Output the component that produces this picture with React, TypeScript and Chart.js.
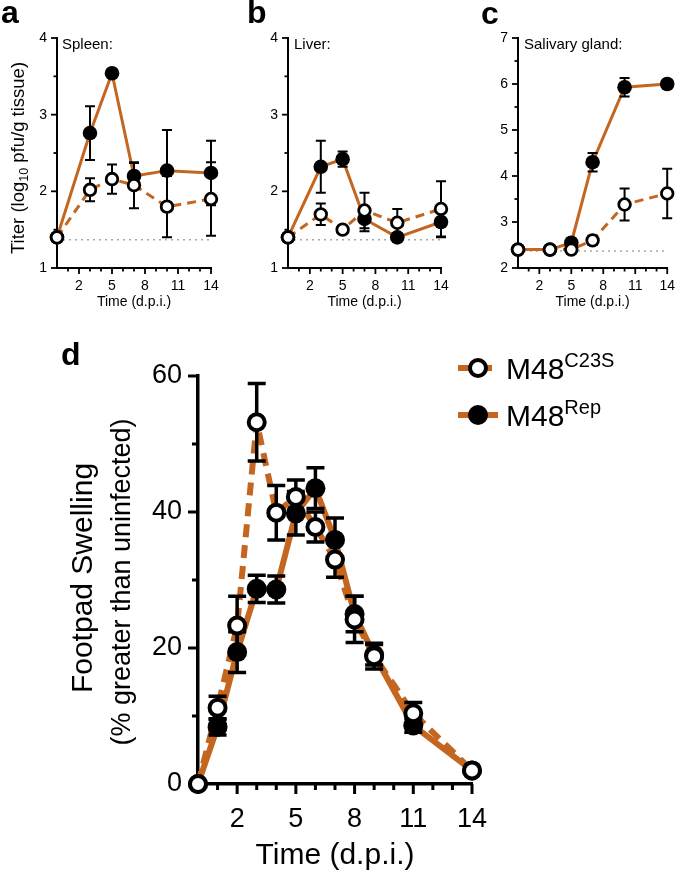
import React, { useEffect, useRef } from 'react';
import { Chart, registerables } from 'chart.js';

Chart.register(...registerables);

const ORANGE = '#c4661f';
const FONT = '"Liberation Sans", Arial, Helvetica, sans-serif';

// ---------- data ----------
const ORGAN_DAYS = [0, 3, 5, 7, 10, 14];

const SPLEEN_REP = [1.4, 2.76, 3.54, 2.2, 2.27, 2.24];
const SPLEEN_REP_ERR = [0, 0.35, 0, 0.17, 0.53, 0.42];
const SPLEEN_C23S = [1.4, 2.02, 2.16, 2.08, 1.8, 1.9];
const SPLEEN_C23S_ERR = [0, 0.15, 0.19, 0.3, 0.4, 0.48];
const SPLEEN_LIMIT = 1.37;

const LIVER_REP = [1.4, 2.32, 2.42, 1.64, 1.4, 1.6];
const LIVER_REP_ERR = [0, 0.34, 0.1, 0.16, 0, 0.2];
const LIVER_C23S = [1.4, 1.7, 1.5, 1.75, 1.59, 1.77];
const LIVER_C23S_ERR = [0, 0.14, 0, 0.23, 0.18, 0.36];
const LIVER_LIMIT = 1.37;

const SALIVARY_REP = [2.4, 2.4, 2.55, 4.3, 5.93, 6.0];
const SALIVARY_REP_ERR = [0, 0, 0, 0.2, 0.2, 0];
const SALIVARY_C23S = [2.4, 2.4, 2.4, 2.6, 3.38, 3.62];
const SALIVARY_C23S_ERR = [0, 0, 0, 0.1, 0.35, 0.54];
const SALIVARY_LIMIT = 2.37;

const FOOT_DAYS = [0, 1, 2, 3, 4, 5, 6, 7, 8, 9, 11, 14];
const FOOT_C23S = [0, 11.2, 23.3, 53.2, 39.9, 42.2, 37.8, 33.0, 24.2, 18.8, 10.4, 2.0];
const FOOT_C23S_ERR = [0, 1.7, 4.3, 5.7, 4.0, 2.5, 2.2, 2.6, 3.4, 1.9, 1.6, 0];
const FOOT_REP = [0, 8.4, 19.4, 28.7, 28.6, 39.8, 43.5, 35.9, 25.0, 19.0, 8.6, 2.0];
const FOOT_REP_ERR = [0, 1.2, 3.0, 2.0, 2.0, 3.2, 3.0, 3.2, 2.6, 1.5, 1.0, 0];

const X_TICK_LABELS = [2, 5, 8, 11, 14];
const X_MAX = 14;
const SPLEEN_Y_LABELS = [1, 2, 3, 4];
const LIVER_Y_LABELS = [1, 2, 3, 4];
const SALIVARY_Y_LABELS = [2, 3, 4, 5, 6, 7];
const FOOT_Y_LABELS = [0, 20, 40, 60];

// ---------- types ----------
type Series = { values: number[]; errors: number[]; filled: boolean };
type RichPart = { text: string; size: number; dy?: number; bold?: boolean };
type TextItem = { parts: RichPart[]; x: number; y: number; rotate?: boolean; align?: 'left' | 'center' };
type LegendSpec = {
  x0: number; x1: number; cx: number; textX: number;
  rows: { series: number; y: number; main: string; sup: string }[];
  size: number; supSize: number; supDy: number;
};
type Spec = {
  left: number; top: number; width: number; height: number;
  padTop: number; padRight: number; yAxisWidth: number; xAxisHeight: number;
  days: number[]; series: Series[];
  yMin: number; yMax: number; yStep: number; yLabels: number[];
  limit?: number;
  tickFont: number; yTickLen: number; yTickPad: number; xTickLen: number; xTickPad: number;
  tickLen: number; minorLen: number; tickWidth: number; axisWidth: number;
  lineWidth: number; dash: number[]; openR: number; openBW: number; filledR: number;
  errWidth: number; errCap: number;
  xTitleSize: number; xTitlePad: number;
  texts: TextItem[];
  legend?: LegendSpec;
};

function drawRich(ctx: CanvasRenderingContext2D, item: TextItem) {
  ctx.save();
  ctx.translate(item.x, item.y);
  if (item.rotate) ctx.rotate(-Math.PI / 2);
  ctx.fillStyle = '#000';
  ctx.textBaseline = 'alphabetic';
  ctx.textAlign = 'left';
  const fonts = item.parts.map((p) => `${p.bold ? 'bold ' : ''}${p.size}px ${FONT}`);
  let total = 0;
  const widths = item.parts.map((p, i) => {
    ctx.font = fonts[i];
    const w = ctx.measureText(p.text).width;
    total += w;
    return w;
  });
  let cx = item.align === 'center' ? -total / 2 : 0;
  item.parts.forEach((p, i) => {
    ctx.font = fonts[i];
    ctx.fillText(p.text, cx, p.dy || 0);
    cx += widths[i];
  });
  ctx.restore();
}

function drawCircle(ctx: CanvasRenderingContext2D, x: number, y: number, spec: Spec, filled: boolean) {
  ctx.beginPath();
  if (filled) {
    ctx.arc(x, y, spec.filledR, 0, Math.PI * 2);
    ctx.fillStyle = '#000';
    ctx.fill();
  } else {
    ctx.arc(x, y, spec.openR, 0, Math.PI * 2);
    ctx.fillStyle = '#fff';
    ctx.fill();
    ctx.lineWidth = spec.openBW;
    ctx.strokeStyle = '#000';
    ctx.stroke();
  }
}

function makePlugin(spec: Spec) {
  return {
    id: 'panelDecor',
    beforeDatasetsDraw(chart: any) {
      const { ctx, chartArea } = chart;
      const xs = chart.scales.x;
      const ys = chart.scales.y;
      ctx.save();
      if (spec.limit !== undefined) {
        const py = ys.getPixelForValue(spec.limit);
        ctx.strokeStyle = '#a8a8a8';
        ctx.lineWidth = 1.5;
        ctx.setLineDash([2, 4]);
        ctx.beginPath();
        ctx.moveTo(xs.getPixelForValue(0), py);
        ctx.lineTo(xs.getPixelForValue(X_MAX), py);
        ctx.stroke();
        ctx.setLineDash([]);
      }
      ctx.strokeStyle = '#000';
      ctx.lineWidth = spec.tickWidth;
      const base = chartArea.bottom;
      for (let d = 1; d <= X_MAX; d++) {
        const len = X_TICK_LABELS.includes(d) ? spec.tickLen : spec.minorLen;
        const px = xs.getPixelForValue(d);
        ctx.beginPath();
        ctx.moveTo(px, base);
        ctx.lineTo(px, base + len);
        ctx.stroke();
      }
      const n = Math.round((spec.yMax - spec.yMin) / spec.yStep);
      for (let i = 0; i <= n; i++) {
        const v = spec.yMin + i * spec.yStep;
        const major = spec.yLabels.some((l) => Math.abs(l - v) < 1e-6);
        const len = major ? spec.tickLen : spec.minorLen;
        const py = ys.getPixelForValue(v);
        ctx.beginPath();
        ctx.moveTo(chartArea.left, py);
        ctx.lineTo(chartArea.left - len, py);
        ctx.stroke();
      }
      ctx.restore();
    },
    beforeDatasetDraw(chart: any, args: any) {
      const ds = chart.data.datasets[args.index];
      if (!ds || !ds.errBefore) return;
      const { ctx } = chart;
      const xs = chart.scales.x;
      const ys = chart.scales.y;
      ctx.save();
      ctx.strokeStyle = '#000';
      ctx.lineWidth = spec.errWidth;
      spec.series.forEach((s) => {
        s.values.forEach((v, j) => {
          const e = s.errors[j];
          if (!e) return;
          const px = xs.getPixelForValue(spec.days[j]);
          const yt = ys.getPixelForValue(v + e);
          const yb = ys.getPixelForValue(v - e);
          ctx.beginPath();
          ctx.moveTo(px, yt);
          ctx.lineTo(px, yb);
          ctx.moveTo(px - spec.errCap, yt);
          ctx.lineTo(px + spec.errCap, yt);
          ctx.moveTo(px - spec.errCap, yb);
          ctx.lineTo(px + spec.errCap, yb);
          ctx.stroke();
        });
      });
      ctx.restore();
    },
    afterDraw(chart: any) {
      const { ctx } = chart;
      spec.texts.forEach((t) => drawRich(ctx, t));
      const lg = spec.legend;
      if (lg) {
        lg.rows.forEach((row) => {
          const s = spec.series[row.series];
          ctx.save();
          ctx.strokeStyle = ORANGE;
          ctx.lineWidth = spec.lineWidth;
          ctx.setLineDash(s.filled ? [] : spec.dash);
          ctx.beginPath();
          ctx.moveTo(lg.x0, row.y);
          ctx.lineTo(lg.x1, row.y);
          ctx.stroke();
          ctx.setLineDash([]);
          drawCircle(ctx, lg.cx, row.y, spec, s.filled);
          ctx.restore();
          drawRich(ctx, {
            x: lg.textX,
            y: row.y + lg.size * 0.358,
            parts: [
              { text: row.main, size: lg.size },
              { text: row.sup, size: lg.supSize, dy: lg.supDy },
            ],
          });
        });
      }
    },
  };
}

function buildChart(canvas: HTMLCanvasElement, spec: Spec) {
  const datasets: any[] = [];
  spec.series.forEach((s, i) => {
    datasets.push({
      data: spec.days.map((d, j) => ({ x: d, y: s.values[j] })),
      borderColor: ORANGE,
      borderWidth: spec.lineWidth,
      borderDash: s.filled ? [] : spec.dash,
      pointRadius: 0,
      pointHoverRadius: 0,
      fill: false,
      tension: 0,
      clip: false,
      order: 21 - i,
    });
  });
  spec.series.forEach((s, i) => {
    datasets.push({
      data: spec.days.map((d, j) => ({ x: d, y: s.values[j] })),
      showLine: false,
      pointRadius: s.filled ? spec.filledR : spec.openR,
      pointHoverRadius: s.filled ? spec.filledR : spec.openR,
      pointBackgroundColor: s.filled ? '#000' : '#fff',
      pointBorderColor: '#000',
      pointBorderWidth: s.filled ? 0 : spec.openBW,
      clip: false,
      order: 11 - i,
      errBefore: i === 0,
    });
  });
  const tickFont = { size: spec.tickFont, family: FONT };
  return new Chart(canvas, {
    type: 'line',
    data: { datasets },
    options: {
      animation: false,
      responsive: false,
      maintainAspectRatio: false,
      devicePixelRatio: 1,
      events: [],
      layout: { padding: { top: spec.padTop, right: spec.padRight, left: 0, bottom: 0 } },
      plugins: { legend: { display: false }, tooltip: { enabled: false }, title: { display: false } },
      scales: {
        x: {
          type: 'linear',
          min: 0,
          max: X_MAX,
          afterFit: (scale: any) => {
            scale.height = spec.xAxisHeight;
          },
          grid: {
            display: true,
            drawOnChartArea: false,
            drawTicks: true,
            tickLength: spec.xTickLen,
            color: 'rgba(0,0,0,0)',
          },
          border: { display: true, color: '#000', width: spec.axisWidth },
          ticks: {
            stepSize: 1,
            autoSkip: false,
            maxRotation: 0,
            minRotation: 0,
            padding: spec.xTickPad,
            color: '#000',
            font: tickFont,
            callback: (v: any) => (X_TICK_LABELS.includes(Number(v)) ? String(v) : ''),
          },
          title: {
            display: true,
            text: 'Time (d.p.i.)',
            color: '#000',
            font: { size: spec.xTitleSize, family: FONT },
            padding: { top: 0, bottom: spec.xTitlePad },
          },
        },
        y: {
          type: 'linear',
          min: spec.yMin,
          max: spec.yMax,
          afterFit: (scale: any) => {
            scale.width = spec.yAxisWidth;
          },
          grid: {
            display: true,
            drawOnChartArea: false,
            drawTicks: true,
            tickLength: spec.yTickLen,
            color: 'rgba(0,0,0,0)',
          },
          border: { display: true, color: '#000', width: spec.axisWidth },
          ticks: {
            stepSize: spec.yStep,
            autoSkip: false,
            padding: spec.yTickPad,
            color: '#000',
            font: tickFont,
            callback: (v: any) =>
              spec.yLabels.some((l) => Math.abs(l - Number(v)) < 1e-6) ? String(Math.round(Number(v))) : '',
          },
        },
      },
    } as any,
    plugins: [makePlugin(spec) as any],
  });
}

const SMALL_STYLE = {
  tickFont: 14, yTickLen: 5, yTickPad: 5, xTickLen: 5, xTickPad: 5,
  tickLen: 6, minorLen: 3.5, tickWidth: 1.8, axisWidth: 2,
  lineWidth: 3, dash: [9, 6], openR: 5.8, openBW: 2.8, filledR: 7.3,
  errWidth: 2, errCap: 5, xTitleSize: 14, xTitlePad: 9,
};

const SPECS: Spec[] = [
  {
    ...SMALL_STYLE,
    left: 0, top: 0, width: 230, height: 320,
    padTop: 38, padRight: 19, yAxisWidth: 57, xAxisHeight: 52,
    days: ORGAN_DAYS,
    series: [
      { values: SPLEEN_REP, errors: SPLEEN_REP_ERR, filled: true },
      { values: SPLEEN_C23S, errors: SPLEEN_C23S_ERR, filled: false },
    ],
    yMin: 1, yMax: 4, yStep: 0.5, yLabels: SPLEEN_Y_LABELS, limit: SPLEEN_LIMIT,
    texts: [
      { parts: [{ text: 'a', size: 32, bold: true }], x: 1, y: 23 },
      { parts: [{ text: 'Spleen:', size: 15 }], x: 62, y: 49 },
      {
        rotate: true, align: 'center', x: 24, y: 158,
        parts: [
          { text: 'Titer (log', size: 18.5 },
          { text: '10', size: 12.5, dy: 4 },
          { text: ' pfu/g tissue)', size: 18.5 },
        ],
      },
    ],
  },
  {
    ...SMALL_STYLE,
    left: 230, top: 0, width: 230, height: 320,
    padTop: 38, padRight: 19, yAxisWidth: 58, xAxisHeight: 52,
    days: ORGAN_DAYS,
    series: [
      { values: LIVER_REP, errors: LIVER_REP_ERR, filled: true },
      { values: LIVER_C23S, errors: LIVER_C23S_ERR, filled: false },
    ],
    yMin: 1, yMax: 4, yStep: 0.5, yLabels: LIVER_Y_LABELS, limit: LIVER_LIMIT,
    texts: [
      { parts: [{ text: 'b', size: 32, bold: true }], x: 17, y: 23 },
      { parts: [{ text: 'Liver:', size: 15 }], x: 64, y: 49 },
    ],
  },
  {
    ...SMALL_STYLE,
    left: 460, top: 0, width: 220, height: 320,
    padTop: 38, padRight: 8, yAxisWidth: 58, xAxisHeight: 52,
    days: ORGAN_DAYS,
    series: [
      { values: SALIVARY_REP, errors: SALIVARY_REP_ERR, filled: true },
      { values: SALIVARY_C23S, errors: SALIVARY_C23S_ERR, filled: false },
    ],
    yMin: 2, yMax: 7, yStep: 0.5, yLabels: SALIVARY_Y_LABELS, limit: SALIVARY_LIMIT,
    texts: [
      { parts: [{ text: 'c', size: 32, bold: true }], x: 21, y: 24 },
      { parts: [{ text: 'Salivary gland:', size: 15 }], x: 64, y: 49 },
    ],
  },
  {
    left: 0, top: 320, width: 680, height: 557,
    padTop: 56, padRight: 208, yAxisWidth: 198, xAxisHeight: 93,
    days: FOOT_DAYS,
    series: [
      { values: FOOT_REP, errors: FOOT_REP_ERR, filled: true },
      { values: FOOT_C23S, errors: FOOT_C23S_ERR, filled: false },
    ],
    yMin: 0, yMax: 60, yStep: 10, yLabels: FOOT_Y_LABELS,
    tickFont: 27, yTickLen: 9, yTickPad: 7, xTickLen: 10, xTickPad: 9,
    tickLen: 10, minorLen: 6, tickWidth: 3, axisWidth: 3.5,
    lineWidth: 6, dash: [13, 8], openR: 8, openBW: 4, filledR: 10,
    errWidth: 3.5, errCap: 9, xTitleSize: 30, xTitlePad: 3,
    texts: [
      { parts: [{ text: 'd', size: 32, bold: true }], x: 61, y: 45 },
      { rotate: true, align: 'center', x: 92, y: 258, parts: [{ text: 'Footpad Swelling', size: 30 }] },
      {
        rotate: true, align: 'center', x: 130, y: 262,
        parts: [{ text: '(% greater than uninfected)', size: 27 }],
      },
    ],
    legend: {
      x0: 458, x1: 498, cx: 478, textX: 506,
      size: 30, supSize: 20, supDy: -12,
      rows: [
        { series: 1, y: 48, main: 'M48', sup: 'C23S' },
        { series: 0, y: 95, main: 'M48', sup: 'Rep' },
      ],
    },
  },
];

function Panel({ spec }: { spec: Spec }) {
  const ref = useRef<HTMLCanvasElement | null>(null);
  useEffect(() => {
    if (!ref.current) return;
    const chart = buildChart(ref.current, spec);
    return () => chart.destroy();
  }, [spec]);
  return (
    <canvas
      ref={ref}
      width={spec.width}
      height={spec.height}
      style={{
        position: 'absolute',
        left: spec.left,
        top: spec.top,
        width: spec.width,
        height: spec.height,
      }}
    />
  );
}

export default function App() {
  return (
    <div style={{ position: 'absolute', left: 0, top: 0, width: 680, height: 877, background: '#fff' }}>
      {SPECS.map((s, i) => (
        <Panel key={i} spec={s} />
      ))}
    </div>
  );
}
